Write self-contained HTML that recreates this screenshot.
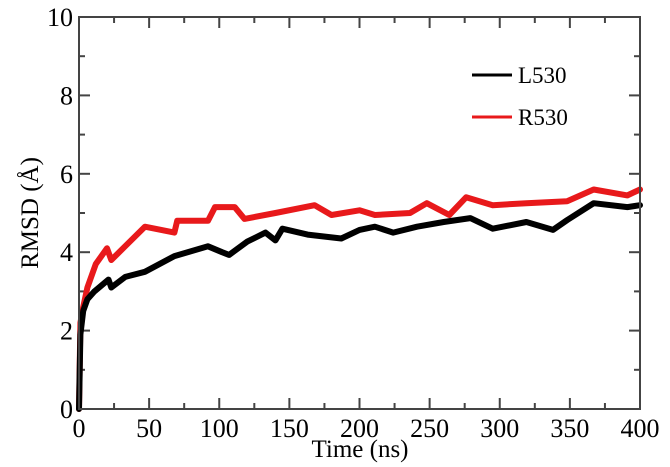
<!DOCTYPE html>
<html><head><meta charset="utf-8"><style>
html,body{margin:0;padding:0;background:#fff;}
svg{display:block;font-family:"Liberation Serif",serif;}
</style></head><body>
<svg id="chart" width="670" height="467" viewBox="0 0 670 467">
<g id="ticks"></g>
<g id="series"></g>
<rect x="79" y="17" width="561" height="392" fill="none" stroke="#444" stroke-width="2"/>
<text x="360" y="457" font-size="25" text-anchor="middle">Time (ns)</text>
<text transform="translate(38,213) rotate(-90)" font-size="25" text-anchor="middle">RMSD (Å)</text>
<g>
<g>
<line x1="472" y1="75" x2="512" y2="75" stroke="#000" stroke-width="3"/>
<text x="518" y="83" font-size="23">L530</text></g>
<g>
<line x1="472" y1="117" x2="512" y2="117" stroke="#e8191b" stroke-width="3"/>
<text x="518" y="125" font-size="23">R530</text></g>
</g>
</svg>
<script>
const xTicks=[0,50,100,150,200,250,300,350,400];
const yTicks=[0,2,4,6,8,10];
const timeL=[0,1,3,6,11,21,23,33,47,68,92,102,107,120,133,140,145,163,187,200,211,224,241,260,279,295,319,338,348,367,391,400];
const valL=[0,1.9,2.5,2.8,3.0,3.3,3.1,3.37,3.5,3.9,4.15,4.0,3.93,4.27,4.5,4.3,4.6,4.45,4.35,4.57,4.65,4.5,4.65,4.77,4.87,4.6,4.77,4.57,4.82,5.25,5.15,5.2];
const timeR=[0,1,3,6,12,20,23,47,68,70,92,97,111,118,140,168,180,200,211,236,248,264,276,295,319,348,367,391,400];
const valR=[0,2.2,2.6,3.1,3.7,4.1,3.8,4.65,4.5,4.8,4.8,5.15,5.15,4.85,5.0,5.2,4.95,5.07,4.95,5.0,5.25,4.95,5.4,5.2,5.25,5.3,5.6,5.45,5.6];
const X0=79,X1=640,Y0=409,Y1=17;
const sx=t=>X0+(t/400)*(X1-X0);
const sy=v=>Y0-(v/10)*(Y0-Y1);
const NS='http://www.w3.org/2000/svg';
const tg=document.getElementById('ticks');
function mk(tag,attrs,parent){const e=document.createElementNS(NS,tag);for(const k in attrs)e.setAttribute(k,attrs[k]);parent.appendChild(e);return e;}
xTicks.forEach((t,i)=>{
  const x=sx(t);
  const l=mk('line',{x1:x,y1:Y0,x2:x,y2:Y0-11,stroke:'#444','stroke-width':2},tg);
  
  
  const l2=mk('line',{x1:x,y1:Y1,x2:x,y2:Y1+11,stroke:'#444','stroke-width':2},tg);
  
  
  if(i<xTicks.length-1){const xm=sx(t+25);
    const m=mk('line',{x1:xm,y1:Y0,x2:xm,y2:Y0-6,stroke:'#444','stroke-width':2},tg);
    
    
    const m2=mk('line',{x1:xm,y1:Y1,x2:xm,y2:Y1+6,stroke:'#444','stroke-width':2},tg);
    
    }
  const tx=mk('text',{x:x,y:Y0+28,'font-size':26,'text-anchor':'middle'},tg);
  tx.textContent=t;
  
  
});
yTicks.forEach((v,i)=>{
  const y=sy(v);
  const l=mk('line',{x1:X0,y1:y,x2:X0+11,y2:y,stroke:'#444','stroke-width':2},tg);
  
  
  const l2=mk('line',{x1:X1,y1:y,x2:X1-11,y2:y,stroke:'#444','stroke-width':2},tg);
  
  
  if(i<yTicks.length-1){const ym=sy(v+1);
    const m=mk('line',{x1:X0,y1:ym,x2:X0+6,y2:ym,stroke:'#444','stroke-width':2},tg);
    
    
    const m2=mk('line',{x1:X1,y1:ym,x2:X1-6,y2:ym,stroke:'#444','stroke-width':2},tg);
    
    }
  const tx=mk('text',{x:X0-6,y:y+9,'font-size':26,'text-anchor':'end'},tg);
  tx.textContent=v;
  
  
});
const sg=document.getElementById('series');
function line(ts,vs,color,name){
  const pts=ts.map((t,i)=>sx(t).toFixed(1)+','+sy(vs[i]).toFixed(1)).join(' ');
  const p=mk('polyline',{points:pts,fill:'none',stroke:color,'stroke-width':6,'stroke-linejoin':'round','stroke-linecap':'round'},sg);
  
  
}
line(timeR,valR,'#e8191b','series-r530');
line(timeL,valL,'#000','series-l530');
</script>
</body></html>
